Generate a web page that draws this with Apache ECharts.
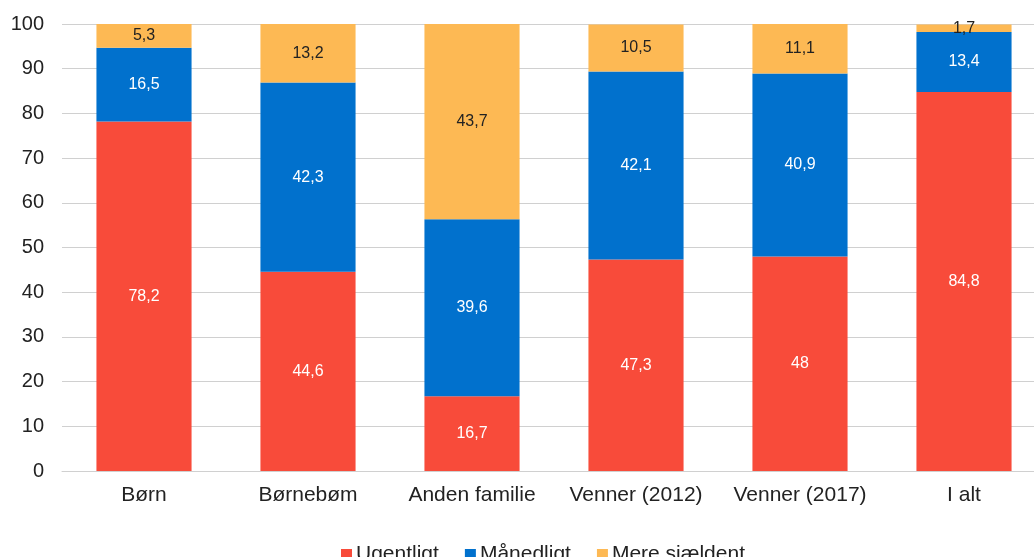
<!DOCTYPE html>
<html>
<head>
<meta charset="utf-8">
<script src="https://cdn.jsdelivr.net/npm/echarts@6/dist/echarts.min.js"></script>
<style>
  html, body { margin: 0; padding: 0; background: #fff; overflow: hidden; }
  /* plottet fortsætter lidt ud over højre kant i originalen */
  #chart { width: 1046px; height: 557px; }
</style>
</head>
<body>
<div id="chart"></div>
<script>
// kategorier og værdier (procent)
var categories = ['Børn', 'Børnebøm', 'Anden familie', 'Venner (2012)', 'Venner (2017)', 'I alt'];
var ugentligt = [78.2, 44.6, 16.7, 47.3, 48, 84.8];
var maanedligt = [16.5, 42.3, 39.6, 42.1, 40.9, 13.4];
var sjaeldent = [5.3, 13.2, 43.7, 10.5, 11.1, 1.7];
var yTicks = [0, 10, 20, 30, 40, 50, 60, 70, 80, 90, 100];

var chart = echarts.init(document.getElementById('chart'));

function fmt(p) {
  return String(p.value).replace('.', ',');
}

function makeSeries(name, data, color, labelColor) {
  return {
    name: name,
    type: 'bar',
    stack: 'total',
    data: data,
    barWidth: '58%',
    itemStyle: { color: color },
    label: {
      show: true,
      position: 'inside',
      color: labelColor,
      fontSize: 16,
      fontFamily: 'Liberation Sans, Arial, sans-serif',
      formatter: fmt
    }
  };
}

var option = {
  animation: false,
  textStyle: { fontFamily: 'Liberation Sans, Arial, sans-serif' },
  grid: { left: 62, right: 0, top: 24, bottom: 86, containLabel: false },
  legend: {
    top: 539,
    left: 336,
    icon: 'rect',
    itemWidth: 11,
    itemHeight: 11,
    itemGap: 26,
    textStyle: { fontSize: 21, color: '#222', padding: [0, 0, 0, -1] },
    data: ['Ugentligt', 'Månedligt', 'Mere sjældent']
  },
  xAxis: {
    type: 'category',
    data: categories,
    axisLine: { lineStyle: { color: '#d0d0d0' } },
    axisTick: { show: false },
    axisLabel: { fontSize: 21, color: '#222', margin: 14, interval: 0 }
  },
  yAxis: {
    type: 'value',
    min: yTicks[0],
    max: yTicks[yTicks.length - 1],
    interval: 10,
    axisLine: { show: false },
    axisTick: { show: false },
    splitLine: { lineStyle: { color: '#d0d0d0' } },
    axisLabel: { fontSize: 20, color: '#222', margin: 18 }
  },
  series: [
    makeSeries('Ugentligt', ugentligt, '#F84B3A', '#fff'),
    makeSeries('Månedligt', maanedligt, '#0171CD', '#fff'),
    makeSeries('Mere sjældent', sjaeldent, '#FDB954', '#222')
  ]
};

chart.setOption(option);
</script>
</body>
</html>
